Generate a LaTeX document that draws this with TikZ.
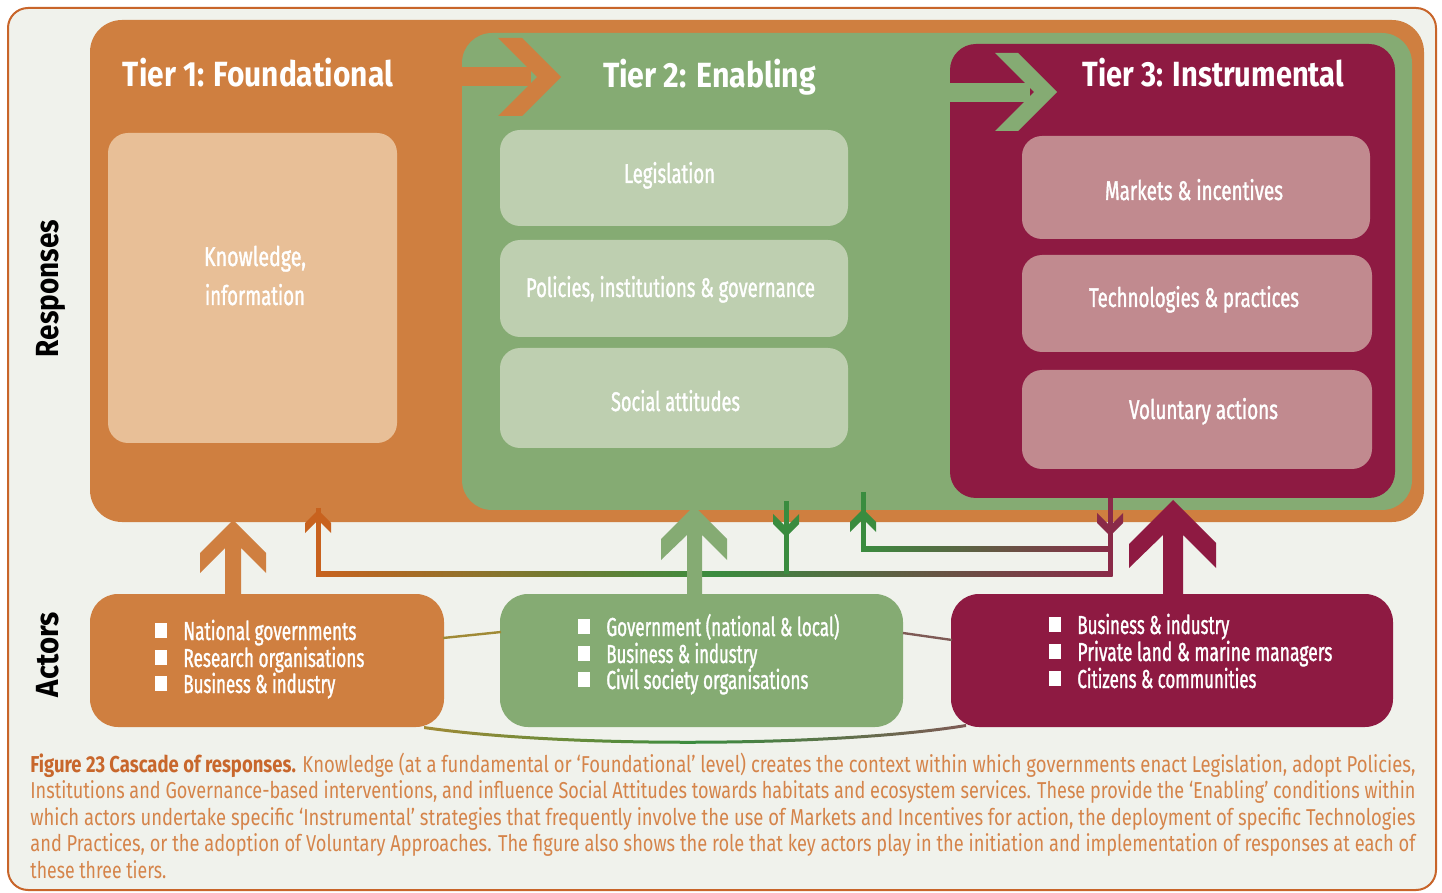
\documentclass[tikz,border=0pt]{standalone}
\usepackage{fontspec}
\setmainfont{Fira Sans}
\newfontfamily\condf[FakeStretch=0.72, FakeBold=1.3]{Fira Sans}
\newfontfamily\capf[FakeStretch=0.8]{Fira Sans}
\usepackage{graphicx}
\newcommand\fitw[2]{\resizebox{#1}{\height}{#2}}
\definecolor{bgc}{HTML}{F0F2EC}
\definecolor{framec}{HTML}{C8652A}
\definecolor{orc}{HTML}{CF7F40}
\definecolor{grc}{HTML}{85AB73}
\definecolor{mrc}{HTML}{8E1A42}
\definecolor{peach}{HTML}{E8BF97}
\definecolor{lgr}{HTML}{BECFB0}
\definecolor{pinkc}{HTML}{C18A8F}
\definecolor{thinor}{HTML}{C8621E}
\definecolor{thingr}{HTML}{3A8C3F}
\definecolor{thinmr}{HTML}{8A2A48}
\definecolor{capbold}{HTML}{C8672C}
\definecolor{captxt}{HTML}{D5844A}
\definecolor{olivec}{HTML}{A08A35}
\definecolor{brownc}{HTML}{7E5A55}
\tikzset{
 ttl/.style={text=white, font=\bfseries\fontsize{17.5}{20}\selectfont, inner sep=0pt, anchor=base},
 btxt/.style={text=white, font=\condf\fontsize{13.5}{16}\selectfont, inner sep=0pt, anchor=base},
 atxt/.style={text=white, font=\condf\fontsize{13}{15}\selectfont, inner sep=0pt, anchor=base west},
 tbox/.style={rounded corners=10pt, inner sep=0pt, draw=none},
 abox/.style={rounded corners=14pt, inner sep=0pt, draw=none},
 captext/.style={inner sep=0pt, anchor=base west, font=\capf\fontsize{11.5}{13}\selectfont, text=captxt},
 side/.style={rotate=90, anchor=base, inner sep=0pt, font=\bfseries\fontsize{16}{18}\selectfont, text=black},
 thinline/.style={line width=2.5pt},
}
\newcommand\bsq{\rule[1pt]{6pt}{7.5pt}\hspace{8pt}}
\newcommand\chevup[3]{\fill[#3] (#1,#2) -- ++(13,13) -- ++(0,10) -- ++(-13,-13) -- ++(-13,13) -- ++(0,-10) -- cycle;}
\newcommand\chevdown[3]{\fill[#3] (#1,#2) -- ++(13,-13) -- ++(0,-10) -- ++(-13,13) -- ++(-13,-13) -- ++(0,10) -- cycle;}
\begin{document}
\begin{tikzpicture}[x=0.5pt,y=-0.5pt]
\path[use as bounding box, fill=white] (0,0) rectangle (1442,893);
% frame
\draw[framec, line width=1pt, fill=bgc, rounded corners=10pt] (8,8) rectangle (1436,890);
% tiers
\fill[orc, rounded corners=16pt] (90,20) rectangle (1424,522);
\fill[grc, rounded corners=15pt] (462,33) rectangle (1412,510);
\fill[mrc, rounded corners=13pt] (950,44) rectangle (1395,498);
% tier arrows
\fill[orc] (462,67) rectangle (531,86);
\fill[orc] (498,38) -- (522,38) -- (561,77) -- (522,116) -- (498,116) -- (537,77) -- cycle;
\fill[grc] (950,83) rectangle (1030,102);
\fill[grc] (995,53) -- (1018,53) -- (1057,92) -- (1018,131) -- (995,131) -- (1034,92) -- cycle;
% titles
\node[ttl] (t1) at (258,87) {\fitw{135pt}{Tier 1: Foundational}};
\node[ttl] (t2) at (709.5,88) {\fitw{106.5pt}{Tier 2: Enabling}};
\node[ttl] (t3) at (1213.5,87) {\fitw{130.5pt}{Tier 3: Instrumental}};
% inner boxes
\node[tbox, fill=peach, minimum width=144.5pt, minimum height=155pt] (kn) at (252.5,288) {};
\node[btxt] (knA) at (255,266) {\fitw{51pt}{Knowledge,}};
\node[btxt] (knB) at (255,305) {\fitw{50pt}{information}};
\node[tbox, fill=lgr, minimum width=174pt, minimum height=48pt] (leg) at (674,178) {};
\node[btxt] (legT) at (669.5,183) {\fitw{45.5pt}{Legislation}};
\node[tbox, fill=lgr, minimum width=174pt, minimum height=48.5pt] (pol) at (674,288.5) {};
\node[btxt] (polT) at (670.5,297) {\fitw{144.5pt}{Policies, institutions \& governance}};
\node[tbox, fill=lgr, minimum width=174pt, minimum height=50pt] (soc) at (674,398) {};
\node[btxt] (socT) at (675.5,411) {\fitw{64.5pt}{Social attitudes}};
\node[tbox, fill=pinkc, minimum width=174pt, minimum height=51.5pt] (mkt) at (1196,187.5) {};
\node[btxt] (mktT) at (1194,200) {\fitw{89pt}{Markets \& incentives}};
\node[tbox, fill=pinkc, minimum width=175pt, minimum height=48.5pt] (tec) at (1197,303.5) {};
\node[btxt] (tecT) at (1194,307) {\fitw{105pt}{Technologies \& practices}};
\node[tbox, fill=pinkc, minimum width=175pt, minimum height=49.5pt] (vol) at (1197,419.5) {};
\node[btxt] (volT) at (1203.5,419) {\fitw{74.5pt}{Voluntary actions}};
% thin connectors
\coordinate (orTop) at (318,508);
\coordinate (orCorner) at (318,573.5);
\coordinate (gdTop) at (786,501);
\coordinate (gdBot) at (786,573.5);
\coordinate (guTop) at (863,492);
\coordinate (guCorner) at (863,548.5);
\coordinate (mdTop) at (1110,498);
\coordinate (mdBot) at (1110,576);
\shade[left color=thinor, right color=thinmr, middle color=thingr] (316,571) rectangle (1112.5,576);
\shade[left color=thingr, right color=thinmr] (861,546) rectangle (1112.5,551);
\draw[thinline, thinor] (orTop) -- (orCorner);
\draw[thinline, thingr] (gdTop) -- (gdBot);
\draw[thinline, thingr] (guTop) -- (guCorner);
\draw[thinline, thinmr] (mdTop) -- (mdBot);
\chevup{318}{510}{thinor}
\chevdown{786}{537}{thingr}
\chevup{863}{509}{thingr}
\chevdown{1110}{536}{thinmr}
% big arrows
\fill[orc] (233,520) -- (266,553) -- (266,573) -- (241,548) -- (241,595) -- (225,595) -- (225,548) -- (200,573) -- (200,553) -- cycle;
\fill[grc] (694,506) -- (727,539) -- (727,560) -- (702,535) -- (702,595) -- (687,595) -- (687,535) -- (661,560) -- (661,539) -- cycle;
\fill[mrc] (1173,500) -- (1216,543) -- (1216,568) -- (1183,535) -- (1183,595) -- (1163,595) -- (1163,535) -- (1129,568) -- (1129,544) -- cycle;
% actor boxes
\node[abox, fill=orc, minimum width=177pt, minimum height=66.5pt] (oa) at (267,660.5) {};
\node[abox, fill=grc, minimum width=201.5pt, minimum height=66.5pt] (ga) at (701.5,660.5) {};
\node[abox, fill=mrc, minimum width=221pt, minimum height=66.5pt] (ma) at (1172,660.5) {};
\node[atxt] (oa1) at (155,640) {\bsq\fitw{86.5pt}{National governments}};
\node[atxt] (oa2) at (155,667) {\bsq\fitw{90.5pt}{Research organisations}};
\node[atxt] (oa3) at (155,693) {\bsq\fitw{76pt}{Business \& industry}};
\node[atxt] (ga1) at (578,636) {\bsq\fitw{116.5pt}{Government (national \& local)}};
\node[atxt] (ga2) at (578,663) {\bsq\fitw{75.5pt}{Business \& industry}};
\node[atxt] (ga3) at (578,689) {\bsq\fitw{101pt}{Civil society organisations}};
\node[atxt] (ma1) at (1049,634) {\bsq\fitw{76pt}{Business \& industry}};
\node[atxt] (ma2) at (1049,661) {\bsq\fitw{127.5pt}{Private land \& marine managers}};
\node[atxt] (ma3) at (1049,688) {\bsq\fitw{89.5pt}{Citizens \& communities}};
% actor connectors
\coordinate (c1a) at (443,638);
\coordinate (c1b) at (501,632);
\coordinate (c2a) at (903,633);
\coordinate (c2b) at (952,640);
\draw[line width=1.2pt, olivec] (c1a) -- (c1b);
\draw[line width=1.2pt, brownc] (c2a) -- (c2b);
\shade[left color=olivec, right color=brownc, middle color=thingr]
  (424,726) .. controls (560,746) and (830,746) .. (966,724) -- (966,727) .. controls (830,749) and (560,749) .. (424,729) -- cycle;
% side labels
\node[side] (resp) at (58,288.5) {\fitw{68.5pt}{Responses}};
\node[side] (act) at (58,654.5) {\fitw{42.5pt}{Actors}};
% caption
\node[captext] (cap1) at (30,772) {\fitw{692.5pt}{{\color{capbold}\bfseries Figure 23 Cascade of responses.} Knowledge (at a fundamental or ‘Foundational’ level) creates the context within which governments enact Legislation, adopt Policies,}};
\node[captext] (cap2) at (30,798.5) {\fitw{692.5pt}{Institutions and Governance-based interventions, and influence Social Attitudes towards habitats and ecosystem services. These provide the ‘Enabling’ conditions within}};
\node[captext] (cap3) at (30,825) {\fitw{692.5pt}{which actors undertake specific ‘Instrumental’ strategies that frequently involve the use of Markets and Incentives for action, the deployment of specific Technologies}};
\node[captext] (cap4) at (30,851.5) {\fitw{692.5pt}{and Practices, or the adoption of Voluntary Approaches. The figure also shows the role that key actors play in the initiation and implementation of responses at each of}};
\node[captext] (cap5) at (30,878) {\fitw{68pt}{these three tiers.}};
\end{tikzpicture}
\end{document}
